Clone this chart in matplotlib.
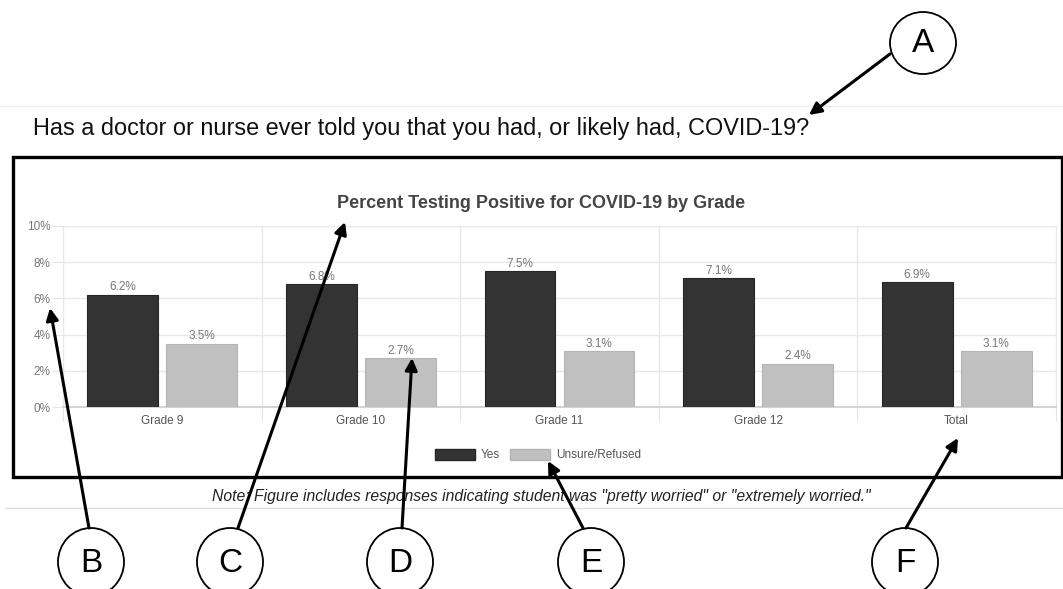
import numpy as np
import matplotlib
matplotlib.use('Agg')
import matplotlib.pyplot as plt
from matplotlib.patches import Ellipse, Rectangle, Patch

# chart data
grades = ['Grade 9', 'Grade 10', 'Grade 11', 'Grade 12', 'Total']
yes_pct = [6.2, 6.8, 7.5, 7.1, 6.9]
unsure_pct = [3.5, 2.7, 3.1, 2.4, 3.1]
series_names = ['Yes', 'Unsure/Refused']
y_ticks = [0, 2, 4, 6, 8, 10]

question = 'Has a doctor or nurse ever told you that you had, or likely had, COVID-19?'
chart_title = 'Percent Testing Positive for COVID-19 by Grade'
note = 'Note: Figure includes responses indicating student was "pretty worried" or "extremely worried."'

plt.rcParams['font.family'] = ['Liberation Sans', 'DejaVu Sans']

W, H = 1063, 589
fig = plt.figure(figsize=(W / 100, H / 100), dpi=100)
fig.patch.set_facecolor('white')

def px_axes(left, top, right, bottom):
    return [left / W, 1 - bottom / H, (right - left) / W, (bottom - top) / H]

# main bar chart
ax = fig.add_axes(px_axes(63, 226, 1056, 407))
x = np.arange(len(grades))
bw = 0.357
dark, light = '#333333', '#c0c0c0'
b1 = ax.bar(x - 0.199, yes_pct, bw, color=dark, edgecolor='#262626', lw=0.8, zorder=3)
b2 = ax.bar(x + 0.199, unsure_pct, bw, color=light, edgecolor='#b5b5b5', lw=0.8, zorder=3)
for bars in (b1, b2):
    ax.bar_label(bars, labels=[f'{v}%' for v in bars.datavalues], padding=1,
                 fontsize=8.5, color='#777777')

ax.set_xlim(-0.5, len(grades) - 0.5)
ax.set_ylim(0, 10)
ax.set_yticks(y_ticks)
ax.set_yticklabels([f'{t}%' for t in y_ticks], fontsize=8.5, color='#777777')
ax.tick_params(axis='y', length=8, color='#e4e4e4', pad=1)
ax.set_xticks(np.arange(-0.5, len(grades), 1.0))
ax.set_xticklabels([])
ax.set_xticks(x, minor=True)
ax.set_xticklabels(grades, minor=True, fontsize=8.5, color='#555555')
ax.tick_params(axis='x', which='major', length=10, color='#e4e4e4')
ax.tick_params(axis='x', which='minor', length=0, pad=6)
ax.grid(True, which='major', color='#e8e8e8', lw=1, zorder=0)
for s in ax.spines.values():
    s.set_color('#e8e8e8')
ax.spines['bottom'].set_color('#cccccc')
ax.spines['bottom'].set_linewidth(1.2)

fig.legend(handles=[Patch(facecolor=dark, edgecolor='#262626'),
                    Patch(facecolor=light, edgecolor='#b5b5b5')],
           labels=series_names, loc='center',
           bbox_to_anchor=(538 / W, 1 - 455 / H), ncol=2, frameon=False,
           fontsize=8.5, labelcolor='#555555', handlelength=3.4, handleheight=1.1,
           handletextpad=0.55, columnspacing=0.8)

# overlay in pixel coordinates for the page elements and callouts
ov = fig.add_axes([0, 0, 1, 1], zorder=5)
ov.set_xlim(0, W)
ov.set_ylim(H, 0)
ov.axis('off')
ov.patch.set_alpha(0)

ov.plot([0, W], [106, 106], color='#eeeeee', lw=1)
ov.plot([5, W], [508, 508], color='#dddddd', lw=1)
ov.text(33, 128, question, fontsize=16.9, color='#111111', va='center', ha='left')
ov.add_patch(Rectangle((13, 157), 1049, 320, fill=False, ec='black', lw=2.4))
ov.text(541, 203, chart_title, fontsize=13, fontweight='bold', color='#444444',
        ha='center', va='center')
ov.text(541, 496, note, fontsize=11.3, style='italic', color='#222222',
        ha='center', va='center')

circles = {'A': (923, 43), 'B': (91, 562), 'C': (230, 562),
           'D': (400, 562), 'E': (591, 562), 'F': (905, 562)}
for letter, (cx, cy) in circles.items():
    ov.add_patch(Ellipse((cx, cy), 66, 62 if letter == 'A' else 68,
                         fill=False, ec='black', lw=1.3))
    ov.text(cx, cy + 1, letter, fontsize=24, ha='center', va='center', color='black')

arrows = [((890, 54), (809, 115)),
          ((89, 528), (50, 308)),
          ((238, 528), (345, 222)),
          ((402, 528), (412, 358)),
          ((583, 528), (548, 461)),
          ((906, 528), (958, 438))]
for tail, tip in arrows:
    ov.annotate('', xy=tip, xytext=tail,
                arrowprops=dict(arrowstyle='-|>', lw=2.2, color='black',
                                mutation_scale=18, shrinkA=0, shrinkB=0))

fig.savefig('out.png', dpi=100)
